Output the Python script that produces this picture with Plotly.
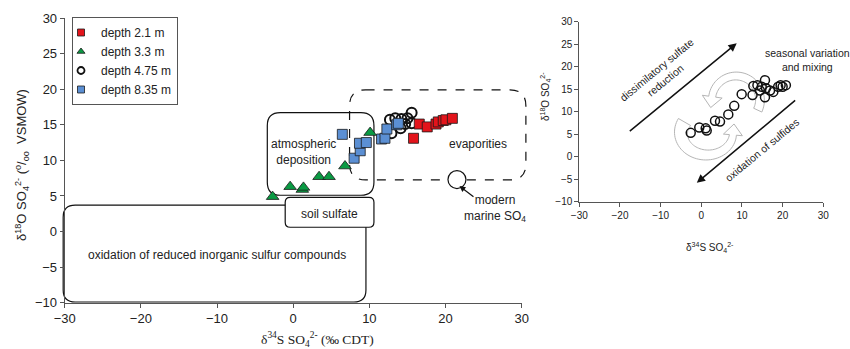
import numpy as np
import plotly.graph_objects as go

# ---- sulfate isotope data (d34S, d18O in per mil) ----
d21_s34 = [15.8, 16.55, 17.6, 18.75, 19.05, 19.7, 20.05, 20.9]
d21_o18 = [13.1, 15.1, 14.7, 15.1, 15.4, 15.6, 15.7, 15.9]

d33_s34 = [-2.7, -0.4, 1.2, 1.35, 3.4, 4.7, 6.8, 10.1]
d33_o18 = [4.9, 6.3, 5.9, 6.2, 7.7, 7.7, 9.2, 13.9]

d475_s34 = [12.7, 13.4, 14.2, 15.0, 14.7, 14.1, 15.55, 15.55, 12.9]
d475_o18 = [15.7, 15.9, 15.8, 15.9, 15.1, 14.5, 16.7, 15.2, 13.8]

d835_s34 = [6.45, 8.0, 8.8, 8.7, 9.6, 11.6, 12.05, 12.3, 13.6, 13.8]
d835_o18 = [13.65, 10.3, 11.35, 12.4, 12.5, 13.0, 13.1, 14.4, 15.0, 15.2]

# samples shown in the process panel
proc_s34 = [-2.6, -0.5, 1.08, 1.33, 3.37, 4.6, 6.64, 8.1, 9.93,
            12.6, 12.8, 13.8, 14.85, 15.9, 15.66, 14.4, 15.66, 16.9,
            17.7, 18.9, 19.5, 20.8, 20.0]
proc_o18 = [5.3, 6.5, 6.3, 5.8, 8.0, 7.8, 9.4, 11.3, 13.9,
            13.7, 15.7, 15.9, 15.55, 15.2, 17.0, 14.7, 13.2, 14.7,
            14.4, 15.55, 15.9, 15.9, 15.55]

marine_s34 = [21.5]
marine_o18 = [7.3]

# isotopic source fields: (x0, x1, y0, y1)
field_oxid = (-30.2, 9.55, -9.9, 3.7)
field_soil = (-1.05, 10.6, 0.6, 4.8)
field_atm = (-3.4, 10.6, 5.1, 16.7)
field_evap = (7.4, 30.55, 7.25, 19.9)

W, H = 850, 349
# pixel frames of the two panels
L_X0, L_X1, L_Y0, L_Y1 = 64.7, 521.7, 302.7, 18.0
R_X0, R_X1, R_Y0, R_Y1 = 579.3, 823.3, 201.7, 21.7
XR, YR = (-30, 30), (-10, 30)

FONT = "Arial, Liberation Sans, sans-serif"
SERIF = "Times New Roman, Liberation Serif, serif"


def lpx(x):
    return L_X0 + (x - XR[0]) * (L_X1 - L_X0) / (XR[1] - XR[0])


def lpy(y):
    return L_Y0 + (y - YR[0]) * (L_Y1 - L_Y0) / (YR[1] - YR[0])


def to_paper(px, py):
    return px / W, 1 - py / H


def path_from_px(pts):
    parts = []
    for i, (px, py) in enumerate(pts):
        u, v = to_paper(px, py)
        parts.append(("M" if i == 0 else "L") + f"{u:.5f},{v:.5f}")
    return " ".join(parts) + " Z"


def rounded_box(field, r):
    x0, x1, y0, y1 = field
    a, b = lpx(x0), lpx(x1)
    top, bot = lpy(y1), lpy(y0)
    P = lambda px, py: "{:.5f},{:.5f}".format(*to_paper(px, py))
    return (f"M{P(a + r, top)} L{P(b - r, top)} Q{P(b, top)} {P(b, top + r)} "
            f"L{P(b, bot - r)} Q{P(b, bot)} {P(b - r, bot)} "
            f"L{P(a + r, bot)} Q{P(a, bot)} {P(a, bot - r)} "
            f"L{P(a, top + r)} Q{P(a, top)} {P(a + r, top)} Z")


def curved_arrow(cx, cy, rx, ry, th0, th1, w0, w1, head_w, head_len):
    th = np.radians(np.linspace(th0, th1, 48))
    w = np.linspace(w0, w1, 48)
    outer = [(cx + (rx + wi / 2) * np.cos(t), cy - (ry + wi / 2) * np.sin(t)) for t, wi in zip(th, w)]
    inner = [(cx + (rx - wi / 2) * np.cos(t), cy - (ry - wi / 2) * np.sin(t)) for t, wi in zip(th, w)]
    te = th[-1]
    c = np.array([cx + rx * np.cos(te), cy - ry * np.sin(te)])
    n = np.array([np.cos(te), -np.sin(te)])
    tg = np.array([-rx * np.sin(te), -ry * np.cos(te)])
    tg = tg / np.linalg.norm(tg)
    head = [tuple(c + n * head_w / 2), tuple(c + tg * head_len), tuple(c - n * head_w / 2)]
    return path_from_px(outer + head + inner[::-1])


fig = go.Figure()

edge = dict(color="#1a1a1a", width=0.8)
styles = {
    "depth 2.1 m": dict(symbol="square", color="#e3141b", line=edge),
    "depth 3.3 m": dict(symbol="triangle-up", color="#0a9a43", line=edge),
    "depth 4.75 m": dict(symbol="circle-open", color="#111", line=dict(color="#111", width=2)),
    "depth 8.35 m": dict(symbol="square", color="#5b8fd3", line=edge),
}
sizes = {"depth 2.1 m": 10, "depth 3.3 m": 11, "depth 4.75 m": 10, "depth 8.35 m": 10}
series = [("depth 4.75 m", d475_s34, d475_o18), ("depth 2.1 m", d21_s34, d21_o18),
          ("depth 3.3 m", d33_s34, d33_o18), ("depth 8.35 m", d835_s34, d835_o18)]
for name, xs, ys in series:
    fig.add_trace(go.Scatter(x=xs, y=ys, mode="markers", name=name, legendgroup=name,
                             showlegend=False, marker=dict(size=sizes[name], **styles[name])))

# compact legend keys
for rank, name in enumerate(["depth 2.1 m", "depth 3.3 m", "depth 4.75 m", "depth 8.35 m"]):
    st = dict(styles[name])
    if name == "depth 4.75 m":
        st["line"] = dict(color="#111", width=1.8)
    fig.add_trace(go.Scatter(x=[None], y=[None], mode="markers", name=name, legendgroup=name,
                             legendrank=rank + 1, marker=dict(size=7, **st)))

fig.add_trace(go.Scatter(x=marine_s34, y=marine_o18, mode="markers", showlegend=False,
                         marker=dict(symbol="circle", size=18, color="white",
                                     line=dict(color="#111", width=1.2))))
fig.add_trace(go.Scatter(x=proc_s34, y=proc_o18, mode="markers", showlegend=False,
                         xaxis="x2", yaxis="y2",
                         marker=dict(symbol="circle-open", size=9, color="#111",
                                     line=dict(color="#111", width=1.5))))

shapes = [
    dict(type="path", path=rounded_box(field_oxid, 12), line=dict(color="#111", width=1.2),
         fillcolor="white", layer="below", xref="paper", yref="paper"),
    dict(type="path", path=rounded_box(field_soil, 5), line=dict(color="#111", width=1.2),
         fillcolor="white", layer="below", xref="paper", yref="paper"),
    dict(type="path", path=rounded_box(field_atm, 13), line=dict(color="#111", width=1.2),
         fillcolor="rgba(0,0,0,0)", layer="below", xref="paper", yref="paper"),
    dict(type="path", path=rounded_box(field_evap, 16), line=dict(color="#111", width=1.2, dash="dash"),
         fillcolor="rgba(0,0,0,0)", layer="below", xref="paper", yref="paper"),
    dict(type="path", path=curved_arrow(736, 100, 24, 24, -25, 172, 9, 7, 20, 11),
         line=dict(color="#b5b5b5", width=1), fillcolor="rgba(255,255,255,0)",
         layer="below", xref="paper", yref="paper"),
    dict(type="path", path=curved_arrow(707, 133, 26, 22, 150, 355, 14, 7, 19, 11),
         line=dict(color="#b5b5b5", width=1), fillcolor="rgba(255,255,255,0)",
         layer="below", xref="paper", yref="paper"),
]

txt = dict(family=FONT, size=12, color="#222")
small = dict(family=FONT, size=10.5, color="#222")
C = dict(xanchor="center", yanchor="middle", showarrow=False)
ann = [
    dict(C, x=1.3, y=11.2, text="atmospheric<br>deposition", font=txt, xref="x", yref="y"),
    dict(C, x=24.3, y=12.3, text="evaporities", font=txt, xref="x", yref="y"),
    dict(C, x=4.8, y=2.45, text="soil sulfate", font=txt, xref="x", yref="y"),
    dict(C, x=-10, y=-3.3, text="oxidation of reduced inorganic sulfur compounds",
         font=txt, xref="x", yref="y"),
    dict(C, x=26.5, y=3.2, text="modern<br>marine SO<sub>4</sub>", font=txt, xref="x", yref="y"),
    dict(x=21.83, y=6.4, ax=15.5, ay=12, text="", showarrow=True, arrowhead=2, arrowsize=1,
         arrowwidth=1.2, arrowcolor="#111", xref="x", yref="y"),
    # process arrows
    dict(x=8.7, y=25.2, ax=-17.95, ay=5.4, text="", showarrow=True, arrowhead=2, arrowsize=1.1,
         arrowwidth=1.5, arrowcolor="#111", xref="x2", yref="y2", axref="x2", ayref="y2"),
    dict(x=-1.1, y=-5.8, ax=23.45, ay=12.8, text="", showarrow=True, arrowhead=2, arrowsize=1.1,
         arrowwidth=1.5, arrowcolor="#111", xref="x2", yref="y2", axref="x2", ayref="y2"),
    dict(C, x=-9.9, y=18.2, text="dissimilatory sulfate<br>reduction", textangle=-39.5,
         font=small, xref="x2", yref="y2"),
    dict(C, x=14.85, y=1.5, text="oxidation of sulfides", textangle=-39.5,
         font=small, xref="x2", yref="y2"),
    dict(C, x=26.2, y=21.5, text="seasonal variation<br>and mixing", font=small, xref="x2", yref="y2"),
    # axis titles
    dict(C, x=22 / W, y=1 - 165 / H, text="δ<sup>18</sup>O SO<sub>4</sub><sup>2-</sup> "
         "(<sup>o</sup>/<sub>oo</sub>\u00a0\u00a0VSMOW)", textangle=-90,
         font=dict(family=FONT, size=13, color="#222"), xref="paper", yref="paper"),
    dict(C, x=317 / W, y=1 - 339 / H, text="δ<sup>34</sup>S SO<sub>4</sub><sup>2-</sup> (‰ CDT)",
         font=dict(family=SERIF, size=13.5, color="#222"), xref="paper", yref="paper"),
    dict(C, x=545 / W, y=1 - 97 / H, text="δ<sup>18</sup>O SO<sub>4</sub><sup>2-</sup>", textangle=-90,
         font=dict(family=FONT, size=10, color="#222"), xref="paper", yref="paper"),
    dict(C, x=710 / W, y=1 - 247 / H, text="δ<sup>34</sup>S SO<sub>4</sub><sup>2-</sup>",
         font=dict(family=FONT, size=10, color="#222"), xref="paper", yref="paper"),
]

axis_common = dict(showgrid=False, zeroline=False, showline=True, linecolor="#555", linewidth=1,
                   ticks="outside", ticklen=4, tickcolor="#555", automargin=False)

fig.update_layout(
    template="none",
    width=W, height=H, autosize=False,
    margin=dict(l=0, r=0, t=0, b=0, pad=0, autoexpand=False),
    paper_bgcolor="white", plot_bgcolor="rgba(0,0,0,0)",
    font=dict(family=FONT, color="#222"),
    xaxis=dict(axis_common, domain=[L_X0 / W, L_X1 / W], range=list(XR), dtick=10,
               tickfont=dict(size=13), anchor="y"),
    yaxis=dict(axis_common, domain=[1 - L_Y0 / H, 1 - L_Y1 / H], range=list(YR), dtick=5,
               tickfont=dict(size=13), anchor="x"),
    xaxis2=dict(axis_common, domain=[R_X0 / W, R_X1 / W], range=list(XR), dtick=10,
                tickfont=dict(size=10), anchor="y2"),
    yaxis2=dict(axis_common, domain=[1 - R_Y0 / H, 1 - R_Y1 / H], range=list(YR), dtick=5,
                tickfont=dict(size=10), anchor="x2"),
    shapes=shapes,
    annotations=ann,
    showlegend=True,
    legend=dict(x=72 / W, y=1 - 17 / H, xanchor="left", yanchor="top",
                bordercolor="#555", borderwidth=1, bgcolor="white",
                font=dict(family=FONT, size=12, color="#222"), itemwidth=30,
                tracegroupgap=0, indentation=-12),
)

fig.write_html("out.html")
